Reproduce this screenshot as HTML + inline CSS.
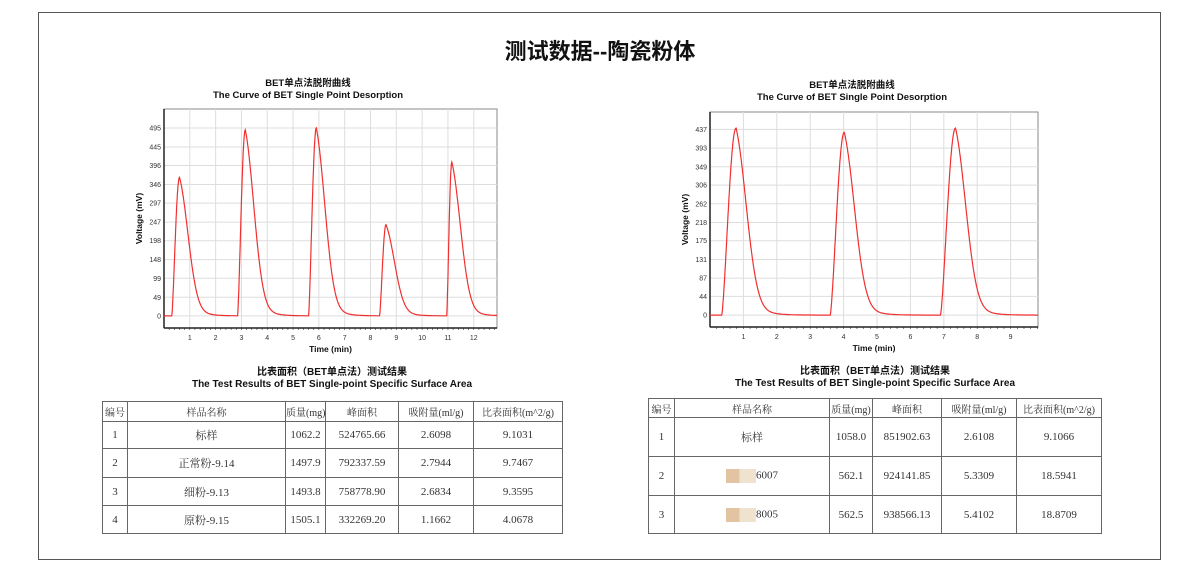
<!DOCTYPE html>
<html><head><meta charset="utf-8">
<style>
body{margin:0;background:#fff;width:1200px;height:579px;overflow:hidden;font-family:"Liberation Sans","Noto Sans CJK SC",sans-serif;}
#frame{position:absolute;left:38px;top:12px;width:1123px;height:548px;border:1px solid #555;box-sizing:border-box;}
#main-title{position:absolute;left:0;width:1200px;top:34px;text-align:center;font-size:22px;font-weight:bold;color:#111;}
svg{position:absolute;left:0;top:0;}
table{position:absolute;border-collapse:collapse;table-layout:fixed;font-family:"Liberation Serif","Noto Serif CJK SC",serif;font-size:11px;color:#333;}
td{border:1.5px solid #666;text-align:center;padding:0;white-space:nowrap;overflow:hidden;}
tr.h td{font-size:10px;letter-spacing:0;}
.tt{position:absolute;text-align:center;font-weight:bold;font-size:10px;color:#111;line-height:12px;}
.blur{display:inline-block;width:30px;height:14px;vertical-align:middle;background:linear-gradient(90deg,#e2c4a2 0 45%,#efe3d0 45%);}
</style></head><body>
<div id="frame"></div>
<div id="main-title">测试数据--陶瓷粉体</div>
<svg id="svg" width="1200" height="579"></svg>

<div class="tt" style="left:132px;width:400px;top:367px">比表面积（BET单点法）测试结果<br>The Test Results of BET Single-point Specific Surface Area</div>
<table style="left:102px;top:401px;width:461px">
<colgroup><col style="width:25px"><col style="width:158px"><col style="width:40px"><col style="width:73px"><col style="width:75px"><col></colgroup>
<tr class="h" style="height:20px"><td>编号</td><td>样品名称</td><td>质量(mg)</td><td>峰面积</td><td>吸附量(ml/g)</td><td>比表面积(m^2/g)</td></tr>
<tr style="height:27px"><td>1</td><td>标样</td><td>1062.2</td><td>524765.66</td><td>2.6098</td><td>9.1031</td></tr>
<tr style="height:29px"><td>2</td><td>正常粉-9.14</td><td>1497.9</td><td>792337.59</td><td>2.7944</td><td>9.7467</td></tr>
<tr style="height:28px"><td>3</td><td>细粉-9.13</td><td>1493.8</td><td>758778.90</td><td>2.6834</td><td>9.3595</td></tr>
<tr style="height:28px"><td>4</td><td>原粉-9.15</td><td>1505.1</td><td>332269.20</td><td>1.1662</td><td>4.0678</td></tr>
</table>

<div class="tt" style="left:675px;width:400px;top:366px">比表面积（BET单点法）测试结果<br>The Test Results of BET Single-point Specific Surface Area</div>
<table style="left:648px;top:398px;width:454px">
<colgroup><col style="width:26px"><col style="width:155px"><col style="width:43px"><col style="width:69px"><col style="width:75px"><col></colgroup>
<tr class="h" style="height:19px"><td>编号</td><td>样品名称</td><td>质量(mg)</td><td>峰面积</td><td>吸附量(ml/g)</td><td>比表面积(m^2/g)</td></tr>
<tr style="height:39px"><td>1</td><td>标样</td><td>1058.0</td><td>851902.63</td><td>2.6108</td><td>9.1066</td></tr>
<tr style="height:39px"><td>2</td><td><span class="blur"></span>6007</td><td>562.1</td><td>924141.85</td><td>5.3309</td><td>18.5941</td></tr>
<tr style="height:38px"><td>3</td><td><span class="blur"></span>8005</td><td>562.5</td><td>938566.13</td><td>5.4102</td><td>18.8709</td></tr>
</table>

<script>
const leftYTicks=[0,49,99,148,198,247,297,346,396,445,495];
const leftXTicks=[1,2,3,4,5,6,7,8,9,10,11,12];
const leftPeakStart=[0.3,2.85,5.6,8.35,10.95];
const leftPeakTime=[0.6,3.15,5.9,8.6,11.15];
const leftPeakHeight=[365,490,495,240,405];
const rightYTicks=[0,44,87,131,175,218,262,306,349,393,437];
const rightXTicks=[1,2,3,4,5,6,7,8,9];
const rightPeakStart=[0.35,3.6,6.9];
const rightPeakTime=[0.78,4.02,7.35];
const rightPeakHeight=[440,430,440];

const NS="http://www.w3.org/2000/svg";
const svg=document.getElementById('svg');
function mk(tag,attrs,parent){const e=document.createElementNS(NS,tag);for(const k in attrs)e.setAttribute(k,attrs[k]);(parent||svg).appendChild(e);return e;}

function chart(cfg,yTicks,xTicks,ps,pt,ph){
  const g=mk('g',{});
  
  
  const X=t=>cfg.x0+(t-cfg.xmin)/(cfg.xmax-cfg.xmin)*(cfg.x1-cfg.x0);
  const Y=v=>cfg.y1-(v-cfg.ymin)/(cfg.ymax-cfg.ymin)*(cfg.y1-cfg.y0);
  mk('rect',{x:cfg.x0,y:cfg.y0,width:cfg.x1-cfg.x0,height:cfg.y1-cfg.y0,fill:'#fff',stroke:'#888','stroke-width':1},g);
  yTicks.forEach(v=>{
    const l=mk('line',{x1:cfg.x0,x2:cfg.x1,y1:Y(v),y2:Y(v),stroke:'#ddd','stroke-width':1},g);
    
    
    const t=mk('text',{x:cfg.x0-3,y:Y(v)+2.5,'font-size':7,'text-anchor':'end',fill:'#333'},g);
    t.textContent=v;
    
    
  });
  xTicks.forEach(v=>{
    const l=mk('line',{x1:X(v),x2:X(v),y1:cfg.y0,y2:cfg.y1,stroke:'#ddd','stroke-width':1},g);
    
    
    const t=mk('text',{x:X(v),y:cfg.y1+12,'font-size':7,'text-anchor':'middle',fill:'#333'},g);
    t.textContent=v;
    
    
  });
  for(let t=0.2;t<cfg.xmax;t+=0.2){mk('line',{x1:X(t),x2:X(t),y1:cfg.y1,y2:cfg.y1+2,stroke:'#333','stroke-width':0.6},g);}
  mk('line',{x1:cfg.x0,x2:cfg.x1,y1:cfg.y1,y2:cfg.y1,stroke:'#222','stroke-width':1.5},g);
  mk('line',{x1:cfg.x0,x2:cfg.x0,y1:cfg.y0,y2:cfg.y1,stroke:'#222','stroke-width':1.5},g);
  let d='';
  for(let t=cfg.xmin;t<=cfg.xmax;t+=0.01){
    let v=0;
    for(let i=0;i<ps.length;i++){
      if(t<ps[i])continue;
      if(t<pt[i]){const r=(t-ps[i])/(pt[i]-ps[i]);v+=ph[i]*Math.pow(Math.sin(Math.PI/2*r),1.4);}
      else{const dd=t-pt[i];v+=ph[i]*(0.75*Math.exp(-Math.pow(dd/cfg.w,2))+0.25*Math.exp(-dd/(cfg.w*0.75)));}
    }
    d+=(d?'L':'M')+X(t).toFixed(1)+','+Y(v).toFixed(1);
  }
  const p=mk('path',{d:d,fill:'none',stroke:'#f03030','stroke-width':1.2},g);
  
  
  const a=mk('text',{x:(cfg.x0+cfg.x1)/2,y:cfg.y1+24,'font-size':8.5,'font-weight':'bold','text-anchor':'middle',fill:'#111'},g);
  a.textContent='Time (min)';
  
  
  const b=mk('text',{x:0,y:0,'font-size':8.5,'font-weight':'bold','text-anchor':'middle',fill:'#111',transform:`translate(${cfg.x0-22},${(cfg.y0+cfg.y1)/2}) rotate(-90)`},g);
  b.textContent='Voltage (mV)';
  
  
  const t1=mk('text',{x:cfg.tx,y:cfg.ty,'font-size':9.5,'font-weight':'bold','text-anchor':'middle',fill:'#111'},g);
  t1.textContent='BET单点法脱附曲线';
  
  
  const t2=mk('text',{x:cfg.tx,y:cfg.ty+12,'font-size':9.5,'font-weight':'bold','text-anchor':'middle',fill:'#111'},g);
  t2.textContent='The Curve of BET Single Point Desorption';
  
  
}
chart({name:'left-chart',x0:164,x1:497,y0:109,y1:328,xmin:0,xmax:12.9,ymin:-32,ymax:545,w:0.5,tx:308,ty:86},leftYTicks,leftXTicks,leftPeakStart,leftPeakTime,leftPeakHeight);
chart({name:'right-chart',x0:710,x1:1038,y0:112,y1:327,xmin:0,xmax:9.82,ymin:-28,ymax:478,w:0.46,tx:852,ty:88},rightYTicks,rightXTicks,rightPeakStart,rightPeakTime,rightPeakHeight);
</script>
</body></html>
